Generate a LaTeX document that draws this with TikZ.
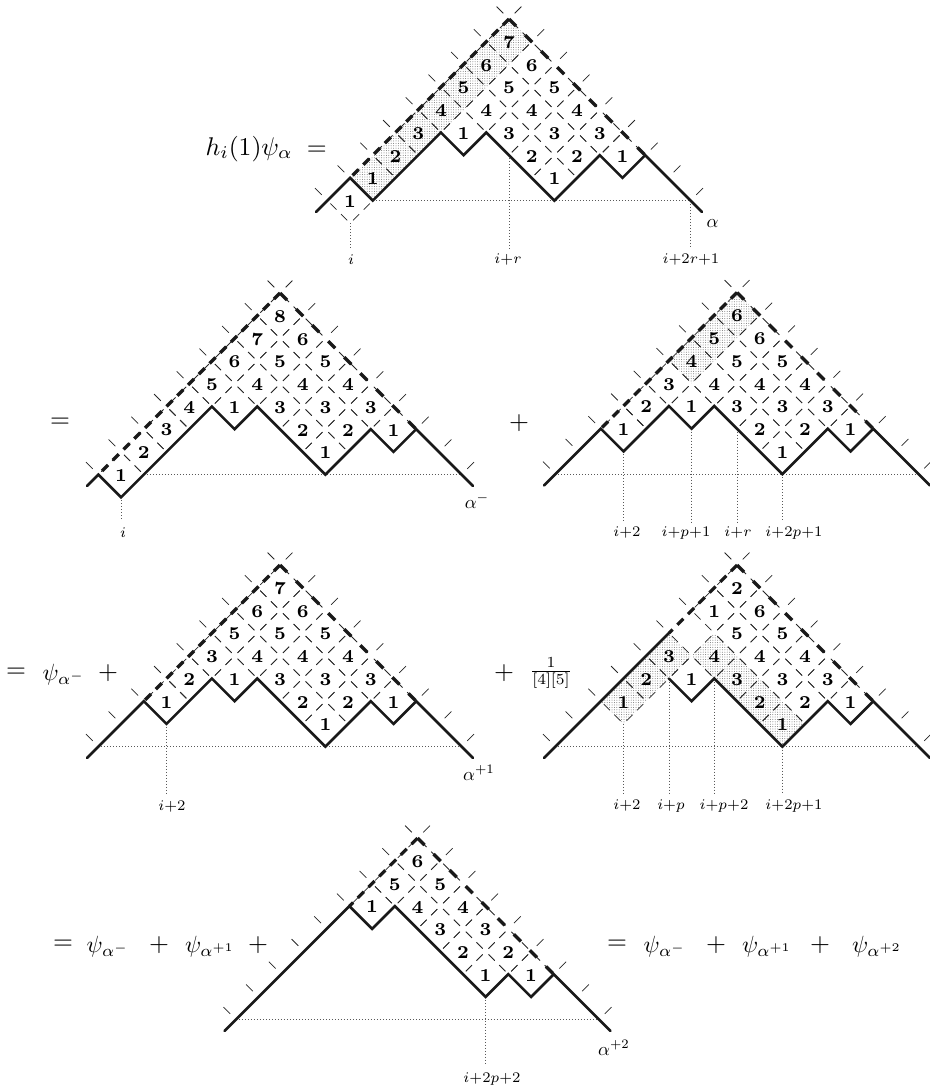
\documentclass[tikz,border=0pt]{standalone}
\usetikzlibrary{patterns.meta}
\tikzset{
  canvas/.style={x=1pt,y=-1pt},
  lattice/.style={x=22.7pt,y=-22.7pt},
  tick/.style={line width=0.72pt,black!85},
  outertick/.style={line width=0.72pt,black!85},
  path line/.style={line width=2.6pt,black!90,line join=miter,line cap=round},
  dash left/.style={line width=3.2pt,black!90,dash pattern=on 8.5pt off 6.7pt},
  dash right/.style={line width=3.2pt,black!90,dash pattern=on 10pt off 12.7pt},
  guide/.style={line width=0.8pt,black!65,dash pattern=on 0.9pt off 2.1pt},
  digit/.style={inner sep=0pt,scale=2.6,font=\scriptsize\bfseries},
  tinylabel/.style={inner sep=0pt,scale=2.1},
  alphalabel/.style={inner sep=0pt,scale=1.85},
  eqn/.style={inner sep=0pt,scale=2.56},
  psi/.style={inner sep=0pt,scale=2.35,anchor=base},
  shaded cell/.style={draw=none,pattern={Dots[distance=2.4pt,radius=0.5pt]},pattern color=black!55}
}
\newcommand{\cellset}[2]{%
  \foreach \a/\b/\t in {#2}{%
    \foreach \dx/\dy/\ux/\uy in {0/-1/1/1,0/-1/-1/1,1/0/-1/1,1/0/-1/-1,0/1/1/-1,0/1/-1/-1,-1/0/1/1,-1/0/1/-1}{%
      \draw[tick] ({\a+\dx+.13*\ux},{\b+\dy+.13*\uy}) -- ({\a+\dx+.40*\ux},{\b+\dy+.40*\uy});
    }%
    \node[digit,name=c#1_\a_\b] at (\a,\b+.04) {\t};
  }%
}
\newcommand{\shadeset}[1]{%
  \foreach \a/\b in {#1}{%
    \fill[shaded cell] (\a,\b-1) -- (\a+1,\b) -- (\a,\b+1) -- (\a-1,\b) -- cycle;
  }%
}
\newcommand{\outerticks}{%
  \foreach \k in {0,...,8}{%
    \draw[outertick] ({-\k-.25},{\k-.25}) -- ({-\k-.55},{\k-.55});
    \draw[outertick] ({\k+.25},{\k-.25}) -- ({\k+.55},{\k-.55});
  }%
}
\newcommand{\roof}[2]{% left end (#1,#1), right end (#2,#2)
  \coordinate (apex) at (0,0);
  \coordinate (roofL) at (-#1,#1);
  \coordinate (roofR) at (#2,#2);
  \draw[dash left] (apex) -- (roofL);
  \draw[dash right] (apex) -- (roofR);
}
\begin{document}
\begin{tikzpicture}[canvas]
\useasboundingbox (0,0) rectangle (929,1089);

% ---------- diagram 1
\begin{scope}[shift={(509,19)},lattice]
  \shadeset{-6/7,-5/6,-4/5,-3/4,-2/3,-1/2,0/1}
  \cellset{a}{0/1/7,-1/2/6,1/2/6,-2/3/5,0/3/5,2/3/5,-3/4/4,-1/4/4,1/4/4,3/4/4,-4/5/3,-2/5/1,0/5/3,2/5/3,4/5/3,-5/6/2,1/6/2,3/6/2,5/6/1,-6/7/1,2/7/1,-7/8/1}
  \outerticks
  \draw[guide] (-6,8) -- (8,8) -- (8,10.1);
  \draw[guide] (-7,9) -- (-7,10.1);
  \draw[guide] (0,6) -- (0,10.1);
  \roof{7}{6}
  \draw[path line] (-8.5,8.5) -- (-7,7) -- (-6,8) -- (-3,5) -- (-2,6) -- (-1,5) -- (2,8) -- (4,6) -- (5,7) -- (6,6) -- (8.5,8.5);
\end{scope}
\node[eqn,anchor=base west] (lhs) at (205,155) {$h_i(1)\psi_\alpha\;=$};
\node[tinylabel] (l1a) at (351,260) {$\scriptstyle i$};
\node[tinylabel] (l1b) at (508,260) {$\scriptstyle i+r$};
\node[tinylabel] (l1c) at (691,260) {$\scriptstyle i+2r+1$};
\node[alphalabel] (al1) at (712.5,224) {$\alpha$};

% ---------- diagram 2
\begin{scope}[shift={(280,293)},lattice]
  \cellset{b}{0/1/8,-1/2/7,1/2/6,-2/3/6,0/3/5,2/3/5,-3/4/5,-1/4/4,1/4/4,3/4/4,-4/5/4,-2/5/1,0/5/3,2/5/3,4/5/3,-5/6/3,1/6/2,3/6/2,5/6/1,-6/7/2,2/7/1,-7/8/1}
  \outerticks
  \draw[guide] (-6,8) -- (8,8);
  \draw[guide] (-7,9) -- (-7,10);
  \roof{8}{6}
  \draw[path line] (-8.5,8.5) -- (-8,8) -- (-7,9) -- (-3,5) -- (-2,6) -- (-1,5) -- (2,8) -- (4,6) -- (5,7) -- (6,6) -- (8.5,8.5);
\end{scope}
\node[eqn] (eq2) at (60,423) {$=$};
\node[tinylabel] (l2a) at (123,533) {$\scriptstyle i$};
\node[alphalabel] (al2) at (477,501) {$\alpha^-$};
\node[eqn] (pl2) at (519,423) {$+$};

% ---------- diagram 3
\begin{scope}[shift={(737,292.5)},lattice]
  \shadeset{-2/3,-1/2,0/1}
  \cellset{c}{0/1/6,-1/2/5,1/2/6,-2/3/4,0/3/5,2/3/5,-3/4/3,-1/4/4,1/4/4,3/4/4,-4/5/2,-2/5/1,0/5/3,2/5/3,4/5/3,-5/6/1,1/6/2,3/6/2,5/6/1,2/7/1}
  \outerticks
  \draw[guide] (-8,8) -- (8,8);
  \draw[guide] (-5,7) -- (-5,10.1);
  \draw[guide] (-2,6) -- (-2,10.1);
  \draw[guide] (0,6) -- (0,10.1);
  \draw[guide] (2,8) -- (2,10.1);
  \roof{6}{6}
  \draw[path line] (-8.5,8.5) -- (-6,6) -- (-5,7) -- (-3,5) -- (-2,6) -- (-1,5) -- (2,8) -- (4,6) -- (5,7) -- (6,6) -- (8.5,8.5);
\end{scope}
\node[tinylabel] (l3a) at (627,533) {$\scriptstyle i+2$};
\node[tinylabel] (l3b) at (686,533) {$\scriptstyle i+p+1$};
\node[tinylabel] (l3c) at (738,533) {$\scriptstyle i+r$};
\node[tinylabel] (l3d) at (794,533) {$\scriptstyle i+2p+1$};

% ---------- diagram 4
\begin{scope}[shift={(280,565)},lattice]
  \cellset{d}{0/1/7,-1/2/6,1/2/6,-2/3/5,0/3/5,2/3/5,-3/4/3,-1/4/4,1/4/4,3/4/4,-4/5/2,-2/5/1,0/5/3,2/5/3,4/5/3,-5/6/1,1/6/2,3/6/2,5/6/1,2/7/1}
  \outerticks
  \draw[guide] (-8,8) -- (8,8);
  \draw[guide] (-5,7) -- (-5,10.1);
  \roof{6}{6}
  \draw[path line] (-8.5,8.5) -- (-6,6) -- (-5,7) -- (-3,5) -- (-2,6) -- (-1,5) -- (2,8) -- (4,6) -- (5,7) -- (6,6) -- (8.5,8.5);
\end{scope}
\node[eqn] (eq3) at (16,673) {$=$};
\node[psi] (psi3) at (64,680) {$\psi_{\alpha^-}$};
\node[eqn] (pl3) at (108,673) {$+$};
\node[tinylabel] (l4a) at (172,807) {$\scriptstyle i+2$};
\node[alphalabel] (al4) at (479,773) {$\alpha^{+1}$};
\node[eqn] (pl3b) at (504,673) {$+$};
\node[inner sep=0pt,scale=2.2] (frac) at (551,673) {$\frac{1}{[4][5]}$};

% ---------- diagram 5
\begin{scope}[shift={(737,565)},lattice]
  \shadeset{-5/6,-4/5,-3/4,-1/4,0/5,1/6,2/7}
  \cellset{e}{0/1/2,-1/2/1,1/2/6,0/3/5,2/3/5,-3/4/3,-1/4/4,1/4/4,3/4/4,-4/5/2,-2/5/1,0/5/3,2/5/3,4/5/3,-5/6/1,1/6/2,3/6/2,5/6/1,2/7/1}
  \outerticks
  \draw[guide] (-8,8) -- (8,8);
  \draw[guide] (-5,7) -- (-5,10.1);
  \draw[guide] (-3,5) -- (-3,10.1);
  \draw[guide] (-1,5) -- (-1,10.1);
  \draw[guide] (2,8) -- (2,10.1);
  \roof{3}{6}
  \draw[path line] (-8.5,8.5) -- (-3,3);
  \draw[path line] (-3,5) -- (-2,6) -- (-1,5) -- (2,8) -- (4,6) -- (5,7) -- (6,6) -- (8.5,8.5);
\end{scope}
\node[tinylabel] (l5a) at (627,806) {$\scriptstyle i+2$};
\node[tinylabel] (l5b) at (671,806) {$\scriptstyle i+p$};
\node[tinylabel] (l5c) at (724,806) {$\scriptstyle i+p+2$};
\node[tinylabel] (l5d) at (794,806) {$\scriptstyle i+2p+1$};

% ---------- diagram 6
\begin{scope}[shift={(417.5,838)},lattice]
  \cellset{f}{0/1/6,-1/2/5,1/2/5,-2/3/1,0/3/4,2/3/4,1/4/3,3/4/3,2/5/2,4/5/2,3/6/1,5/6/1}
  \outerticks
  \draw[guide] (-8,8) -- (8,8);
  \draw[guide] (3,7) -- (3,10);
  \roof{3}{6}
  \draw[path line] (-8.5,8.5) -- (-3,3) -- (-2,4) -- (-1,3) -- (3,7) -- (4,6) -- (5,7) -- (6,6) -- (8.5,8.5);
\end{scope}
\node[tinylabel] (l6a) at (492,1079) {$\scriptstyle i+2p+2$};
\node[alphalabel] (al6) at (614,1048) {$\alpha^{+2}$};
\node[eqn] (eq4) at (63,945) {$=$};
\node[psi] (psi4) at (108,952) {$\psi_{\alpha^-}$};
\node[eqn] (pl4) at (159,945) {$+$};
\node[psi] (psi5) at (210,952) {$\psi_{\alpha^{+1}}$};
\node[eqn] (pl5) at (258,945) {$+$};
\node[eqn] (eq5) at (617,945) {$=$};
\node[psi] (psi6) at (665,952) {$\psi_{\alpha^-}$};
\node[eqn] (pl6) at (716,945) {$+$};
\node[psi] (psi7) at (767,952) {$\psi_{\alpha^{+1}}$};
\node[eqn] (pl7) at (820,945) {$+$};
\node[psi] (psi8) at (877,952) {$\psi_{\alpha^{+2}}$};
\end{tikzpicture}
\end{document}
